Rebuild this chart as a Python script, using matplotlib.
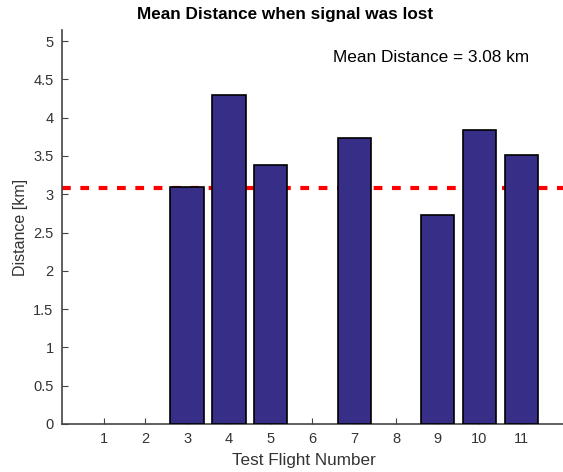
import numpy as np
import matplotlib.pyplot as plt

plt.rcParams['font.family'] = ['Liberation Sans', 'DejaVu Sans']

flights = [1, 2, 3, 4, 5, 6, 7, 8, 9, 10, 11]
distance = [0, 0, 3.10, 4.29, 3.38, 0, 3.73, 0, 2.73, 3.84, 3.51]
mean_distance = 3.08

fig = plt.figure(figsize=(5.63, 4.72), dpi=100)
ax = fig.add_axes([0.110, 0.1017, 0.89, 0.834])

# flights with no signal loss get no bar
lost = [(f, d) for f, d in zip(flights, distance) if d > 0]
ax.bar([f for f, d in lost], [d for f, d in lost], width=0.8,
       color='#372e88', edgecolor='black', linewidth=1.2, zorder=3)
ax.axhline(mean_distance, color='#ff0000', linestyle=(0, (2.1, 2.3)), linewidth=3, zorder=2)
ax.text(6.49, 4.79, 'Mean Distance = %.2f km' % mean_distance, fontsize=12.4, color='black', va='center')

ax.set_xlim(0, 12)
ax.set_ylim(0, 5.14)
ax.set_xticks(flights)
ax.set_yticks(np.arange(0, 5.01, 0.5))
ax.set_yticklabels(['0', '0.5', '1', '1.5', '2', '2.5', '3', '3.5', '4', '4.5', '5'])

ax.spines['top'].set_visible(False)
ax.spines['right'].set_visible(False)
for s in ['left', 'bottom']:
    ax.spines[s].set_color('#444444')
    ax.spines[s].set_linewidth(1.2)
ax.tick_params(direction='in', length=4, colors='#444444', labelsize=10.5, labelcolor='#333333', pad=6)

ax.set_title('Mean Distance when signal was lost', fontsize=12.3, fontweight='bold', pad=8, x=0.446)
ax.set_xlabel('Test Flight Number', fontsize=12.3, color='#333333', labelpad=5, x=0.482)
ax.set_ylabel('Distance [km]', fontsize=11.5, color='#333333', labelpad=4)

fig.savefig('out.png', dpi=100)
